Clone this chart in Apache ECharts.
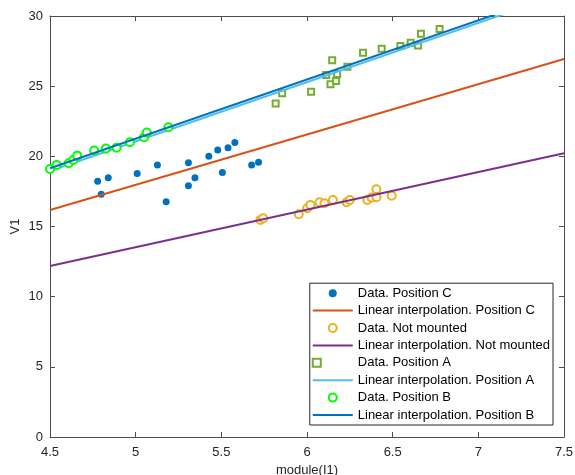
<!DOCTYPE html>
<html>
<head>
<meta charset="utf-8">
<script src="https://cdn.jsdelivr.net/npm/echarts@6/dist/echarts.min.js"></script>
<style>
  html, body { margin: 0; padding: 0; background: #fff; }
  #main { width: 575px; height: 475px; }
</style>
</head>
<body>
<div id="main"></div>
<script>
var cX = [4.778, 4.799, 4.840, 5.009, 5.127, 5.178, 5.308, 5.308, 5.346, 5.427, 5.479, 5.506, 5.539, 5.579, 5.677, 5.717];
var cY = [18.22, 17.30, 18.48, 18.77, 19.39, 16.77, 19.55, 17.91, 18.48, 20.01, 20.46, 18.84, 20.62, 20.98, 19.39, 19.58];

var nmX = [5.728, 5.744, 5.952, 6.001, 6.020, 6.073, 6.102, 6.151, 6.231, 6.250, 6.352, 6.377, 6.405, 6.406, 6.494];
var nmY = [15.47, 15.59, 15.87, 16.30, 16.54, 16.73, 16.66, 16.89, 16.73, 16.89, 16.89, 17.06, 17.65, 17.08, 17.20];

var aX = [5.817, 5.855, 6.024, 6.112, 6.137, 6.147, 6.170, 6.176, 6.236, 6.327, 6.436, 6.545, 6.605, 6.648, 6.665, 6.774];
var aY = [23.76, 24.49, 24.61, 25.80, 25.13, 26.85, 25.37, 25.87, 26.39, 27.39, 27.66, 27.87, 28.10, 27.90, 28.74, 29.08];

var bX = [4.500, 4.539, 4.609, 4.636, 4.659, 4.758, 4.826, 4.889, 4.966, 5.049, 5.065, 5.191];
var bY = [19.10, 19.39, 19.51, 19.74, 20.05, 20.41, 20.55, 20.62, 21.00, 21.36, 21.69, 22.07];

// fitted lines, value at both ends of the x range
var fitX = [4.5, 7.5];
var fitC = [16.18, 26.94];
var fitNM = [12.19, 20.22];
var fitA = [18.95, 31.62];
var fitB = [19.15, 31.80];

var xTicks = [4.5, 7.5, 0.5];
var yTicks = [0, 30, 5];

var names = [
  "Data. Position C", "Linear interpolation. Position C",
  "Data. Not mounted", "Linear interpolation. Not mounted",
  "Data. Position A", "Linear interpolation. Position A",
  "Data. Position B", "Linear interpolation. Position B"
];

function pairs(xs, ys) {
  return xs.map(function (x, i) { return [x, ys[i]]; });
}

window.onload = function () {
  var myChart = echarts.init(document.getElementById("main"));
  var font = "Liberation Sans";
  var axisCol = "#4d4d4d";
  var txtCol = "#262626";

  var baseAxis = {
    type: "value",
    axisLine: { show: true, onZero: false, lineStyle: { color: axisCol, width: 1 } },
    axisTick: { show: true, inside: true, length: 5, lineStyle: { color: axisCol } },
    splitLine: { show: false },
    axisLabel: { color: txtCol, fontFamily: font, fontSize: 13 }
  };

  function lineSeries(name, ys, color, z) {
    return {
      name: name, type: "line", data: pairs(fitX, ys),
      showSymbol: false, clip: true, z: z,
      lineStyle: { color: color, width: 2 }, itemStyle: { color: color }
    };
  }

  function ringSeries(name, xs, ys, symbol, size, color, z) {
    return {
      name: name, type: "scatter", data: pairs(xs, ys),
      symbol: symbol, symbolSize: size, z: z,
      itemStyle: { color: "#fff", borderColor: color, borderWidth: 2, opacity: 1 }
    };
  }

  // hide the marker that echarts puts in the middle of line legend icons
  var legendData = names.map(function (n, i) {
    if (n.indexOf("Linear") === 0) {
      return { name: n, itemStyle: { color: "rgba(0,0,0,0)", borderWidth: 0, opacity: 0 } };
    }
    if (i > 0) return { name: n, itemStyle: { borderWidth: 2 } };
    return { name: n };
  });

  var option = {
    animation: false,
    backgroundColor: "#fff",
    grid: { left: 50, right: 11, top: 16, bottom: 38, outerBoundsMode: "none" },
    xAxis: [
      Object.assign({}, baseAxis, {
        min: xTicks[0], max: xTicks[1], interval: xTicks[2],
        name: "module(I1)", nameLocation: "middle", nameGap: 27,
        nameTextStyle: { color: txtCol, fontFamily: font, fontSize: 13 },
        axisLabel: Object.assign({}, baseAxis.axisLabel, { margin: 9 })
      }),
      Object.assign({}, baseAxis, {
        position: "top", min: xTicks[0], max: xTicks[1], interval: xTicks[2],
        axisLabel: { show: false }
      })
    ],
    yAxis: [
      Object.assign({}, baseAxis, {
        min: yTicks[0], max: yTicks[1], interval: yTicks[2],
        name: "V1", nameLocation: "middle", nameGap: 28, nameMoveOverlap: false,
        nameTextStyle: { color: txtCol, fontFamily: font, fontSize: 13 },
        axisLabel: Object.assign({}, baseAxis.axisLabel, { margin: 7 })
      }),
      Object.assign({}, baseAxis, {
        position: "right", min: yTicks[0], max: yTicks[1], interval: yTicks[2],
        axisLabel: { show: false }
      })
    ],
    legend: {
      orient: "vertical",
      right: 22, bottom: 50,
      padding: [3, 3, 3, 2],
      itemWidth: 40, itemHeight: 8, itemGap: 3.4,
      backgroundColor: "#fff",
      borderColor: "#262626", borderWidth: 1,
      textStyle: { color: "#000", fontFamily: font, fontSize: 13, lineHeight: 14 },
      data: legendData
    },
    series: [
      {
        name: names[0], type: "scatter", data: pairs(cX, cY),
        symbol: "circle", symbolSize: 7, z: 2,
        itemStyle: { color: "#0072BD", opacity: 1 }
      },
      lineSeries(names[1], fitC, "#D95319", 3),
      ringSeries(names[2], nmX, nmY, "circle", 8, "#EDB120", 4),
      lineSeries(names[3], fitNM, "#7E2F8E", 5),
      ringSeries(names[4], aX, aY, "square", 6, "#77AC30", 6),
      lineSeries(names[5], fitA, "#4DBEEE", 7),
      ringSeries(names[6], bX, bY, "circle", 8, "#00FF00", 8),
      lineSeries(names[7], fitB, "#0072BD", 9)
    ]
  };

  option && myChart.setOption(option);
};
</script>
</body>
</html>
